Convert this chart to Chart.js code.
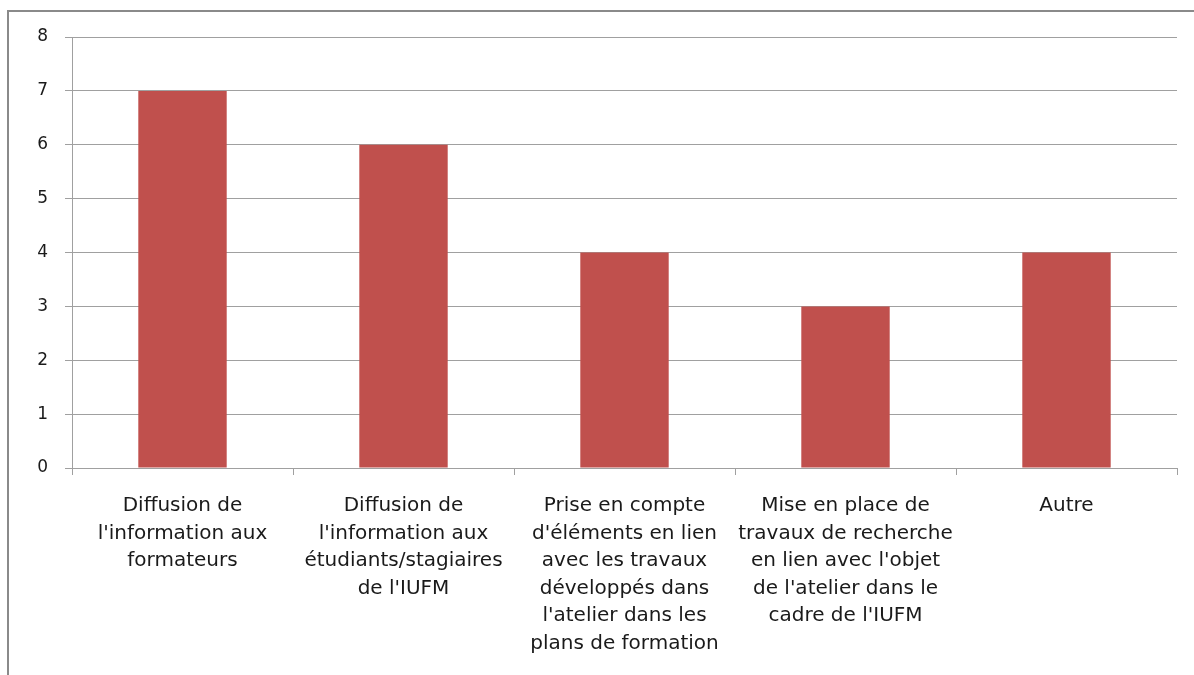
<!DOCTYPE html>
<html>
<head>
<meta charset="utf-8">
<script src="https://cdn.jsdelivr.net/npm/chart.js@4/dist/chart.umd.min.js"></script>
<style>
  html, body { margin: 0; padding: 0; background: #fff; }
  #wrap { position: relative; width: 1194px; height: 675px; overflow: hidden; }
  #frame { position: absolute; left: 7px; top: 10px; width: 1300px; height: 800px;
           border-left: 2px solid #8a8a8a; border-top: 2px solid #8a8a8a; }
  canvas { position: absolute; left: 0; top: 0; }
</style>
</head>
<body>
<div id="wrap">
  <div id="frame"></div>
  <canvas id="c" width="1194" height="675"></canvas>
</div>
<script>
const categories = [
  ["Diffusion de", "l'information aux", "formateurs"],
  ["Diffusion de", "l'information aux", "étudiants/stagiaires", "de l'IUFM"],
  ["Prise en compte", "d'éléments en lien", "avec les travaux", "développés dans", "l'atelier dans les", "plans de formation"],
  ["Mise en place de", "travaux de recherche", "en lien avec l'objet", "de l'atelier dans le", "cadre de l'IUFM"],
  ["Autre"]
];
const values = [7, 6, 4, 3, 4];
const yTicks = [0, 1, 2, 3, 4, 5, 6, 7, 8];

const gridColor = '#a0a0a0';

new Chart(document.getElementById('c'), {
  type: 'bar',
  data: {
    labels: categories,
    datasets: [{
      data: values,
      backgroundColor: '#C0504D',
      borderWidth: 0,
      barPercentage: 0.4,
      categoryPercentage: 1.0
    }]
  },
  options: {
    responsive: false,
    animation: false,
    devicePixelRatio: 1,
    layout: { padding: { left: 0, right: 17, top: 37, bottom: 0 } },
    plugins: { legend: { display: false }, tooltip: { enabled: false } },
    scales: {
      x: {
        grid: { display: true, drawOnChartArea: false, drawTicks: true, tickLength: 7, color: gridColor, offset: true },
        border: { display: true, color: gridColor, width: 1 },
        ticks: {
          color: '#1a1a1a',
          font: { family: 'DejaVu Sans', size: 20, lineHeight: 1.38 },
          padding: 17,
          maxRotation: 0,
          autoSkip: false
        },
        afterFit(scale) { scale.height = 207; }
      },
      y: {
        min: 0,
        max: 8,
        afterBuildTicks(scale) { scale.ticks = yTicks.map(v => ({ value: v })); },
        grid: { color: gridColor, tickLength: 7, drawTicks: true },
        border: { display: true, color: gridColor, width: 1 },
        ticks: {
          color: '#1a1a1a',
          font: { family: 'DejaVu Sans', size: 17 },
          padding: 17
        },
        afterFit(scale) { scale.width = 72; }
      }
    }
  }
});
</script>
</body>
</html>
